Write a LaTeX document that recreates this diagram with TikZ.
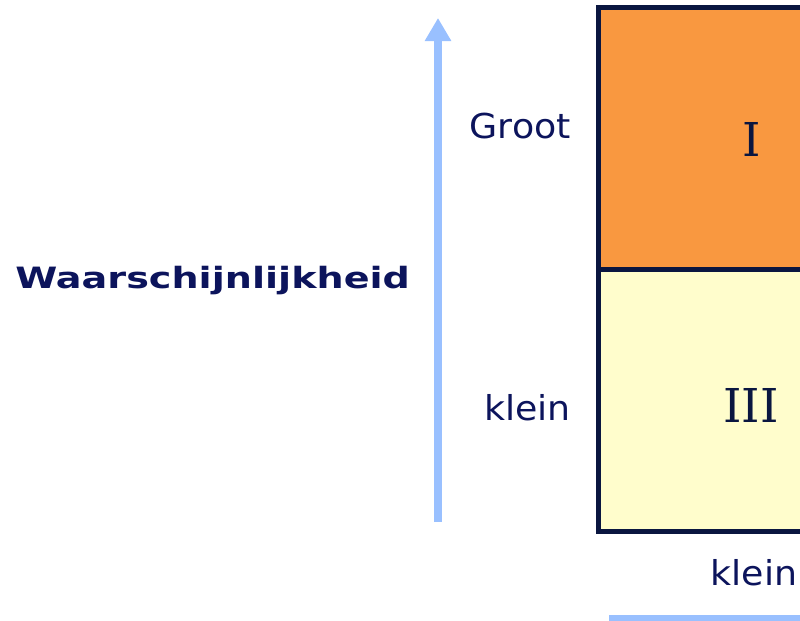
\documentclass[tikz,border=0pt]{standalone}
\usepackage{fontspec}
\usepackage{tikz}
\usetikzlibrary{arrows.meta}
\newfontfamily\lblfont[FakeStretch=1.06]{DejaVu Sans}
\newfontfamily\ttlfont[FakeStretch=1.3]{DejaVu Sans}
\newfontfamily\numfont{DejaVu Serif}
\definecolor{navytext}{RGB}{12,20,92}
\definecolor{navyline}{RGB}{10,22,64}
\definecolor{riskorange}{RGB}{249,152,64}
\definecolor{riskyellow}{RGB}{255,253,204}
\definecolor{axisblue}{RGB}{153,192,255}

\begin{document}
\begin{tikzpicture}[x=0.75pt,y=0.75pt,yscale=-1,xscale=1,
  lbl/.style={text=navytext, inner sep=0pt, font=\lblfont\fontsize{25.7}{30}\selectfont},
  ttl/.style={text=navytext, inner sep=0pt, font=\ttlfont\bfseries\fontsize{22}{26}\selectfont},
  num/.style={text=navyline, inner sep=0pt, font=\numfont\fontsize{35}{40}\selectfont},
  cell/.style={draw=navyline, line width=3.9pt, outer sep=0pt, inner sep=0pt,
    minimum width=200pt, minimum height=196.5pt},
  axis/.style={draw=axisblue, line width=5.6pt, -{Triangle[width=18.75pt,length=17.25pt]}}]
\useasboundingbox (0,0) rectangle (800,621);
\fill[white] (0,0) rectangle (800,621);
\clip (0,0) rectangle (800,621);

%Shape: Rectangle (cell I)
\node[cell, fill=riskorange, anchor=north west] (cellone) at (598.5,7.5) {};
%Shape: Rectangle (cell III)
\node[cell, fill=riskyellow, anchor=north west] (cellthree) at (cellone.south west) {};

%Straight Lines (vertical axis)
\coordinate (ybot) at (438,522);
\coordinate (ytop) at (438,18);
\draw[axis] (ybot) -- (ytop);
%Straight Lines (horizontal axis)
\coordinate (xleft) at (609,618.5);
\coordinate (xright) at (900,618.5);
\draw[axis] (xleft) -- (xright);

% Text Node
\node[num, anchor=base] (one) at (752,156) {I};
% Text Node
\node[num, anchor=base] (three) at (751,422) {III};
% Text Node
\node[lbl, anchor=base east] (groot) at (571,138) {Groot};
% Text Node
\node[lbl, anchor=base east] (kleiny) at (571,420) {klein};
% Text Node
\node[ttl, anchor=base west] (title) at (15,288) {Waarschijnlijkheid};
% Text Node
\node[lbl, anchor=base] (kleinx) at (754,585) {klein};

\end{tikzpicture}
\end{document}
